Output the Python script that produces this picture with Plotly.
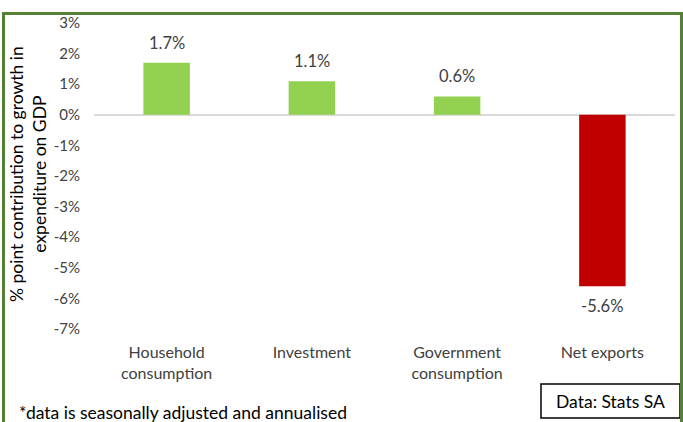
import plotly.graph_objects as go

categories = ["Household<br>consumption", "Investment", "Government<br>consumption", "Net exports"]
contributions = [1.7, 1.1, 0.6, -5.6]
bar_colors = ["#92D050", "#92D050", "#92D050", "#C00000"]
tick_vals = [3, 2, 1, 0, -1, -2, -3, -4, -5, -6, -7]
tick_text = [f"{v}%" for v in tick_vals]

FONT = "Lato"

# plot area geometry in pixels (683 x 422 page)
W, H = 683, 422
L, R, T, B = 94, 675, 23, 329


def px(x):
    return (x - L) / (R - L)


def py(y):
    return (B - y) / (B - T)


fig = go.Figure(
    go.Bar(
        x=categories,
        y=contributions,
        marker=dict(color=bar_colors, line=dict(width=0)),
        width=0.32,
        hoverinfo="skip",
    )
)

# value labels above positive bars, below negative ones
for c, v in zip(categories, contributions):
    fig.add_annotation(
        x=c, y=v, text=f"{v:.1f}%", showarrow=False,
        xanchor="center",
        yanchor="bottom" if v >= 0 else "top",
        yshift=8 if v >= 0 else -8,
        font=dict(family=FONT, size=16.5, color="#404040"),
    )

# y-axis title
fig.add_annotation(
    xref="paper", yref="paper", x=px(28), y=py(174),
    text="% point contribution to growth in<br>expenditure on GDP",
    textangle=-90, showarrow=False, xanchor="center", yanchor="middle",
    font=dict(family=FONT, size=17.5, color="#000000"),
)

# footnote
fig.add_annotation(
    xref="paper", yref="paper", x=px(17), y=py(412),
    text="*data is seasonally adjusted and annualised",
    showarrow=False, xanchor="left", yanchor="middle",
    font=dict(family=FONT, size=17.5, color="#000000"),
)

# source box
fig.add_shape(
    type="rect", xref="paper", yref="paper",
    x0=px(541), x1=px(680), y0=py(418), y1=py(384),
    line=dict(color="#000000", width=1.5), fillcolor="white",
)
fig.add_annotation(
    xref="paper", yref="paper", x=px(610.5), y=py(401.5),
    text="Data: Stats SA", showarrow=False,
    xanchor="center", yanchor="middle",
    font=dict(family=FONT, size=17.5, color="#000000"),
)

# outer chart frame
fig.add_shape(
    type="rect", xref="paper", yref="paper",
    x0=px(3.5), x1=px(681.5), y0=py(440), y1=py(13.5),
    line=dict(color="#548235", width=3), fillcolor="rgba(0,0,0,0)",
    layer="above",
)

fig.update_layout(
    width=W, height=H,
    margin=dict(l=L, r=W - R, t=T, b=H - B),
    paper_bgcolor="white", plot_bgcolor="white",
    showlegend=False,
    bargap=0.68,
    xaxis=dict(
        showline=False, showgrid=False, zeroline=False, ticks="",
        tickfont=dict(family=FONT, size=16, color="#404040"),
        ticklabelstandoff=12,
    ),
    yaxis=dict(
        range=[-7, 3], tickvals=tick_vals, ticktext=tick_text,
        showgrid=False, showline=False,
        zeroline=True, zerolinecolor="#D9D9D9", zerolinewidth=2,
        ticks="", ticklabelstandoff=13,
        tickfont=dict(family=FONT, size=15, color="#404040"),
    ),
)

fig.write_html("out.html")
